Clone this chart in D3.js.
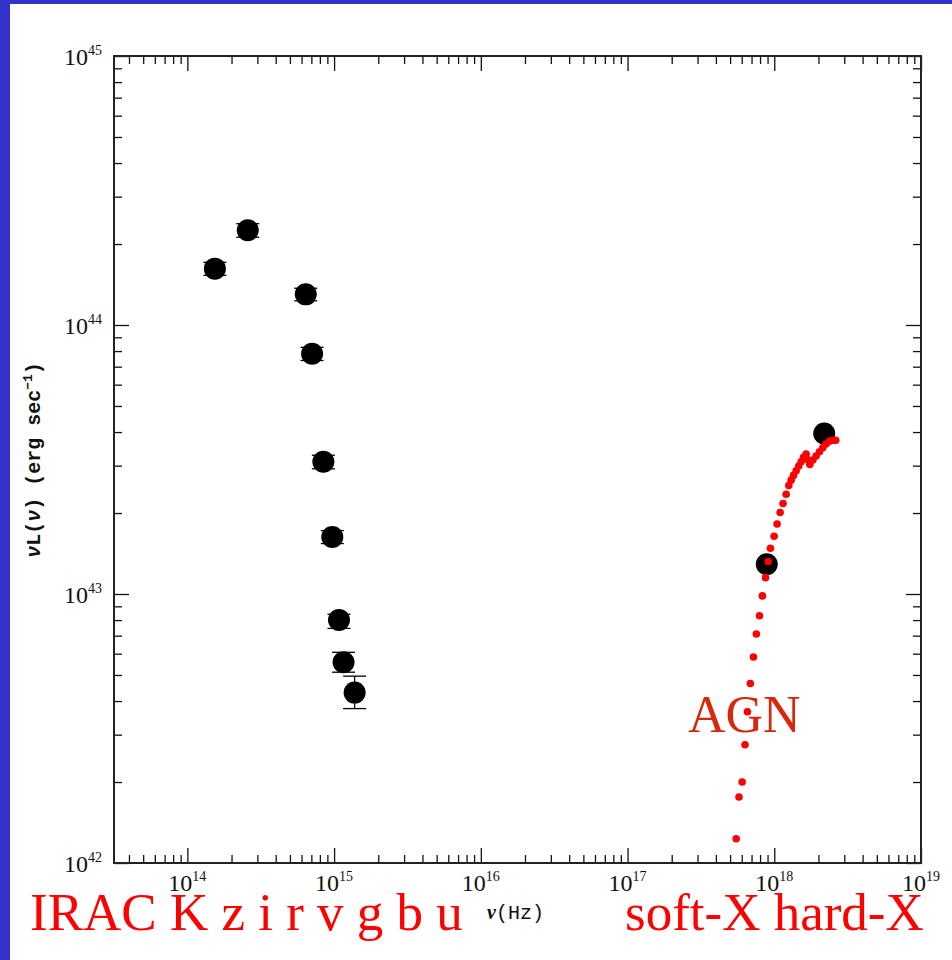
<!DOCTYPE html>
<html>
<head>
<meta charset="utf-8">
<script src="https://cdn.jsdelivr.net/npm/d3@7"></script>
<style>
body { margin: 0; background: #fff; }
</style>
</head>
<body>
<svg id="chart" width="952" height="960"></svg>
<script>
// photometry: IRAC, K, z, i, r, v, g, b, u
var photFreq = [1.54e14, 2.58e14, 6.41e14, 7.08e14, 8.45e14, 9.72e14, 1.08e15, 1.16e15, 1.38e15];
var photLum  = [1.62e44, 2.25e44, 1.30e44, 7.82e43, 3.10e43, 1.63e43, 8.00e42, 5.58e42, 4.30e42];
var photLo   = [1.53e44, 2.12e44, 1.23e44, 7.38e43, 2.92e43, 1.54e43, 7.45e42, 5.12e42, 3.75e42];
var photHi   = [1.71e44, 2.38e44, 1.37e44, 8.26e43, 3.28e43, 1.72e43, 8.41e42, 6.07e42, 4.95e42];

// soft-X and hard-X points
var xrayFreq = [8.89e17, 2.19e18];
var xrayLum  = [1.29e43, 3.95e43];

// AGN model dots
var agnFreq = [5.50e17, 5.75e17, 6.04e17, 6.32e17, 6.56e17, 6.87e17, 7.21e17, 7.55e17, 7.93e17,
  8.30e17, 8.71e17, 9.08e17, 9.42e17, 9.98e17, 1.045e18, 1.096e18, 1.148e18, 1.205e18,
  1.256e18, 1.303e18, 1.352e18, 1.409e18, 1.469e18, 1.524e18, 1.581e18, 1.648e18,
  1.702e18, 1.746e18, 1.832e18, 1.928e18, 2.032e18, 2.143e18, 2.254e18, 2.377e18,
  2.506e18, 2.624e18];
var agnLum = [1.23e42, 1.76e42, 2.00e42, 2.75e42, 3.65e42, 4.65e42, 5.83e42, 7.10e42, 8.30e42,
  9.84e42, 1.15e43, 1.32e43, 1.48e43, 1.64e43, 1.82e43, 2.01e43, 2.17e43, 2.35e43,
  2.53e43, 2.65e43, 2.76e43, 2.87e43, 2.99e43, 3.10e43, 3.22e43, 3.31e43,
  3.15e43, 3.03e43, 3.15e43, 3.26e43, 3.38e43, 3.50e43, 3.61e43, 3.70e43,
  3.73e43, 3.73e43];

var xTickExp = [14, 15, 16, 17, 18, 19];
var yTickExp = [42, 43, 44, 45];

var plotLeft = 114, plotRight = 921, plotTop = 56, plotBottom = 863;

var svg = d3.select("#chart");

// slide frame
svg.append("rect").attr("width", 952).attr("height", 960).attr("fill", "#fff");
svg.append("rect").attr("width", 10).attr("height", 960).attr("fill", "#3333cc");
svg.append("rect").attr("width", 952).attr("height", 4).attr("fill", "#3333cc");

var x = d3.scaleLog().domain([Math.pow(10, 13.5), 1e19]).range([plotLeft, plotRight]);
var y = d3.scaleLog().domain([1e42, 1e45]).range([plotBottom, plotTop]);

function isMajor(v) { return Math.abs(Math.log10(v) - Math.round(Math.log10(v))) < 1e-9; }

var xMinor = x.ticks().filter(function(v) { return !isMajor(v); });
var xMajor = x.ticks().filter(isMajor);
var yMinor = y.ticks().filter(function(v) { return !isMajor(v); });
var yMajor = y.ticks().filter(isMajor);

function addAxis(axis, tx, ty) {
  var g = svg.append("g")
    .attr("transform", "translate(" + tx + "," + ty + ")")
    .call(axis);
  g.select(".domain").remove();
  g.selectAll(".tick line").attr("stroke", "#111").attr("stroke-width", 1.3);
  g.selectAll("text").remove();
}

addAxis(d3.axisBottom(x).tickValues(xMinor).tickSize(-8).tickFormat(""), 0, plotBottom);
addAxis(d3.axisBottom(x).tickValues(xMajor).tickSize(-15).tickFormat(""), 0, plotBottom);
addAxis(d3.axisTop(x).tickValues(xMinor).tickSize(-8).tickFormat(""), 0, plotTop);
addAxis(d3.axisTop(x).tickValues(xMajor).tickSize(-15).tickFormat(""), 0, plotTop);
addAxis(d3.axisLeft(y).tickValues(yMinor).tickSize(-8).tickFormat(""), plotLeft, 0);
addAxis(d3.axisLeft(y).tickValues(yMajor).tickSize(-15).tickFormat(""), plotLeft, 0);
addAxis(d3.axisRight(y).tickValues(yMinor).tickSize(-8).tickFormat(""), plotRight, 0);
addAxis(d3.axisRight(y).tickValues(yMajor).tickSize(-15).tickFormat(""), plotRight, 0);

svg.append("rect")
  .attr("x", plotLeft).attr("y", plotTop)
  .attr("width", plotRight - plotLeft).attr("height", plotBottom - plotTop)
  .attr("fill", "none").attr("stroke", "#222").attr("stroke-width", 2);

// tick labels
var tl = svg.append("g").attr("font-family", "Liberation Serif, serif").attr("fill", "#111");
xTickExp.forEach(function(e) {
  var t = tl.append("text")
    .attr("x", x(Math.pow(10, e))).attr("y", 891)
    .attr("text-anchor", "middle").attr("font-size", 24);
  t.append("tspan").text("10");
  t.append("tspan").attr("font-size", 14).attr("dy", -10).text(e);
});
yTickExp.forEach(function(e) {
  var t = tl.append("text")
    .attr("x", 102).attr("y", y(Math.pow(10, e)) + 9)
    .attr("text-anchor", "end").attr("font-size", 24);
  t.append("tspan").text("10");
  t.append("tspan").attr("font-size", 14).attr("dy", -10).text(e);
});

// axis titles
var yt = svg.append("text")
  .attr("transform", "translate(40,460) rotate(-90)")
  .attr("text-anchor", "middle")
  .attr("font-family", "Liberation Mono, monospace")
  .attr("font-size", 20).attr("font-weight", "bold").attr("fill", "#111");
yt.append("tspan").attr("font-style", "italic").text("\u03bd");
yt.append("tspan").text("L(");
yt.append("tspan").attr("font-style", "italic").text("\u03bd");
yt.append("tspan").text(") (erg sec");
yt.append("tspan").attr("font-size", 13).attr("dy", -8).text("\u22121");
yt.append("tspan").attr("dy", 8).text(")");

var xt = svg.append("text")
  .attr("x", 487).attr("y", 919)
  .attr("font-family", "Liberation Mono, monospace")
  .attr("font-size", 20).attr("fill", "#111");
xt.append("tspan").attr("font-family", "Liberation Serif, serif").attr("font-style", "italic").attr("font-weight", "bold").text("\u03bd");
xt.append("tspan").text("(Hz)");

// error bars
var phot = photFreq.map(function(f, i) {
  return { f: f, l: photLum[i], lo: photLo[i], hi: photHi[i] };
});
var eb = svg.append("g").attr("stroke", "#000").attr("stroke-width", 1.3);
eb.selectAll(".v").data(phot).enter().append("line")
  .attr("x1", function(d) { return x(d.f); }).attr("x2", function(d) { return x(d.f); })
  .attr("y1", function(d) { return y(d.lo); }).attr("y2", function(d) { return y(d.hi); });
eb.selectAll(".c1").data(phot).enter().append("line")
  .attr("x1", function(d) { return x(d.f) - 11.5; }).attr("x2", function(d) { return x(d.f) + 11.5; })
  .attr("y1", function(d) { return y(d.lo); }).attr("y2", function(d) { return y(d.lo); });
eb.selectAll(".c2").data(phot).enter().append("line")
  .attr("x1", function(d) { return x(d.f) - 11.5; }).attr("x2", function(d) { return x(d.f) + 11.5; })
  .attr("y1", function(d) { return y(d.hi); }).attr("y2", function(d) { return y(d.hi); });

svg.append("g").selectAll("circle").data(phot).enter().append("circle")
  .attr("cx", function(d) { return x(d.f); })
  .attr("cy", function(d) { return y(d.l); })
  .attr("r", 11).attr("fill", "#000");

svg.append("g").selectAll("circle").data(xrayFreq).enter().append("circle")
  .attr("cx", function(d) { return x(d); })
  .attr("cy", function(d, i) { return y(xrayLum[i]); })
  .attr("r", 11).attr("fill", "#000");

svg.append("g").selectAll("circle").data(agnFreq).enter().append("circle")
  .attr("cx", function(d) { return x(d); })
  .attr("cy", function(d, i) { return y(agnLum[i]); })
  .attr("r", 3.8).attr("fill", "#ff0000");

// red annotations
svg.append("text").attr("x", 688).attr("y", 732)
  .attr("font-family", "Liberation Serif, serif").attr("font-size", 52)
  .attr("fill", "#d8280c").text("AGN");
svg.append("text").attr("x", 30).attr("y", 930)
  .attr("font-family", "Liberation Serif, serif").attr("font-size", 53)
  .attr("fill", "#ff0000").text("IRAC K z i r v g b u");
svg.append("text").attr("x", 625).attr("y", 930)
  .attr("font-family", "Liberation Serif, serif").attr("font-size", 53)
  .attr("fill", "#ff0000").text("soft-X hard-X");
</script>
</body>
</html>
